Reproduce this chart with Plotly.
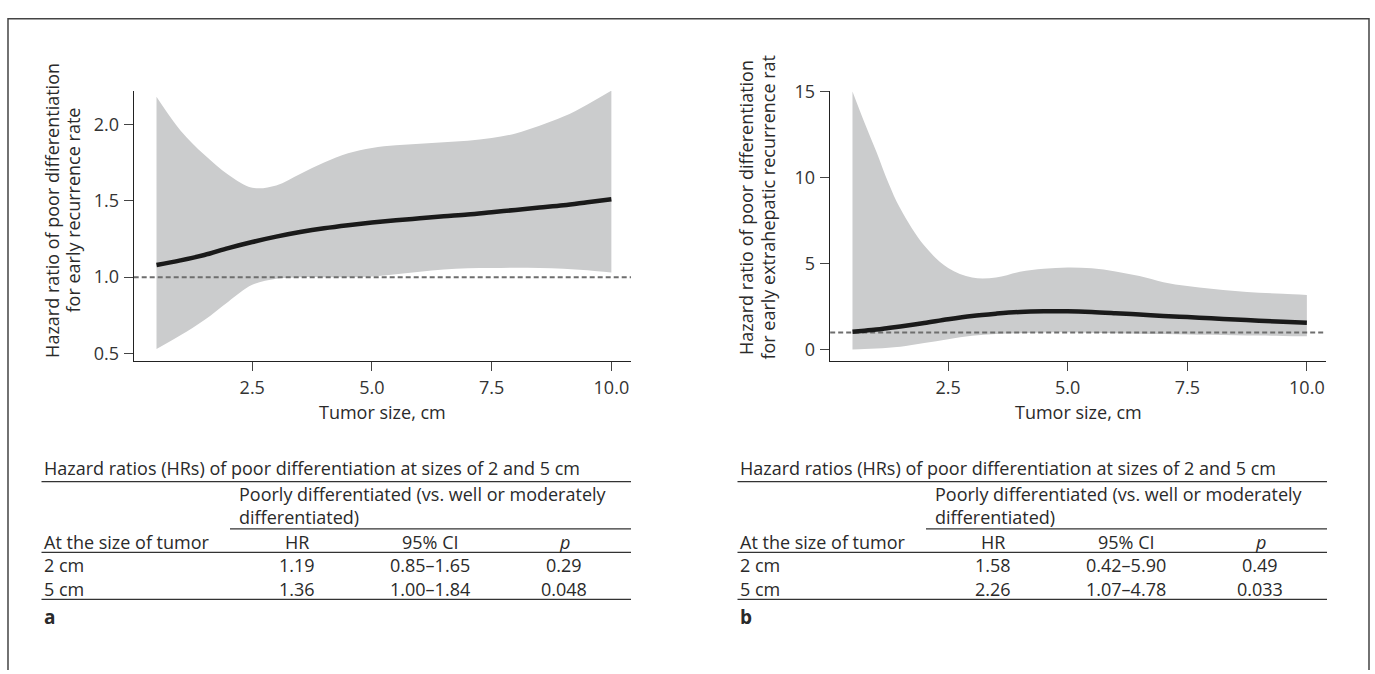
import plotly.graph_objects as go

W, H = 1375, 674

# ---------------- data ----------------
size_a = [0.5, 1.0, 1.5, 2.0, 2.5, 3.0, 3.5, 4.0, 4.5, 5.0, 5.5, 6.0, 6.5, 7.0, 7.5, 8.0, 8.5, 9.0, 9.5, 10.0]
hr_a = [1.08, 1.11, 1.145, 1.19, 1.23, 1.265, 1.295, 1.32, 1.34, 1.357, 1.372, 1.385, 1.398, 1.41, 1.425, 1.44, 1.455, 1.47, 1.49, 1.51]
upper_a = [2.18, 1.96, 1.80, 1.67, 1.585, 1.60, 1.675, 1.75, 1.81, 1.845, 1.862, 1.873, 1.882, 1.892, 1.91, 1.94, 1.99, 2.05, 2.13, 2.22]
lower_a = [0.53, 0.62, 0.72, 0.84, 0.95, 0.99, 1.0, 1.0, 1.0, 1.005, 1.02, 1.035, 1.05, 1.058, 1.06, 1.062, 1.06, 1.055, 1.045, 1.03]

size_b = [0.5, 0.75, 1.0, 1.25, 1.5, 2.0, 2.5, 3.0, 3.5, 4.0, 4.5, 5.0, 5.5, 6.0, 6.5, 7.0, 7.5, 8.0, 8.5, 9.0, 9.5, 10.0]
hr_b = [1.05, 1.11, 1.18, 1.27, 1.36, 1.56, 1.78, 1.97, 2.1, 2.2, 2.24, 2.24, 2.2, 2.13, 2.05, 1.97, 1.9, 1.83, 1.76, 1.69, 1.63, 1.58]
upper_b = [15.0, 13.2, 11.5, 9.7, 8.2, 6.05, 4.75, 4.2, 4.2, 4.53, 4.7, 4.78, 4.73, 4.55, 4.28, 3.93, 3.7, 3.55, 3.42, 3.32, 3.25, 3.19]
lower_b = [0.02, 0.05, 0.08, 0.12, 0.18, 0.4, 0.62, 0.82, 0.92, 0.97, 1.0, 1.02, 0.99, 0.97, 0.94, 0.92, 0.89, 0.87, 0.85, 0.83, 0.81, 0.79]

reference_hr = 1.0

x_ticks = [2.5, 5.0, 7.5, 10.0]
x_ticktext = ["2.5", "5.0", "7.5", "10.0"]
y_ticks_a = [0.5, 1.0, 1.5, 2.0]
y_ticktext_a = ["0.5", "1.0", "1.5", "2.0"]
y_ticks_b = [0, 5, 10, 15]
y_ticktext_b = ["0", "5", "10", "15"]

x_title = "Tumor size, cm"
y_title_a = ["Hazard ratio of poor differentiation", "for early recurrence rate"]
y_title_b = ["Hazard ratio of poor differentiation", "for early extrahepatic recurrence rat"]

table_title = "Hazard ratios (HRs) of poor differentiation at sizes of 2 and 5 cm"
group_header = ["Poorly differentiated (vs. well or moderately", "differentiated)"]
col_headers = ["At the size of tumor", "HR", "95% CI", "<i>p</i>"]
rows_a = [["2 cm", "1.19", "0.85–1.65", "0.29"], ["5 cm", "1.36", "1.00–1.84", "0.048"]]
rows_b = [["2 cm", "1.58", "0.42–5.90", "0.49"], ["5 cm", "2.26", "1.07–4.78", "0.033"]]
panel_labels = ["a", "b"]

# ---------------- styling ----------------
FONT = "Open Sans, DejaVu Sans, sans-serif"
TXT = "#2a2a2a"
BAND = "#cbcccd"
LINE = "#1a1a1a"
DASH = "#6e6e6e"


def px(x):
    return x / W


def py(y):
    return 1 - y / H


fig = go.Figure()

panels = [
    dict(x=size_a, hr=hr_a, up=upper_a, lo=lower_a, xa="x", ya="y"),
    dict(x=size_b, hr=hr_b, up=upper_b, lo=lower_b, xa="x2", ya="y2"),
]

for p in panels:
    fig.add_trace(go.Scatter(x=p["x"], y=p["lo"], mode="lines", line=dict(width=0, shape="spline", color=BAND),
                             xaxis=p["xa"], yaxis=p["ya"], showlegend=False, hoverinfo="skip"))
    fig.add_trace(go.Scatter(x=p["x"], y=p["up"], mode="lines", line=dict(width=0, shape="spline", color=BAND),
                             fill="tonexty", fillcolor=BAND,
                             xaxis=p["xa"], yaxis=p["ya"], showlegend=False, hoverinfo="skip"))
    fig.add_trace(go.Scatter(x=[p["x"][0] - 10, p["x"][-1] + 10], y=[reference_hr, reference_hr], mode="lines",
                             line=dict(width=2, color=DASH, dash="5px,3px"),
                             xaxis=p["xa"], yaxis=p["ya"], showlegend=False, hoverinfo="skip"))
    fig.add_trace(go.Scatter(x=p["x"], y=p["hr"], mode="lines", line=dict(width=4.5, color=LINE, shape="spline"),
                             xaxis=p["xa"], yaxis=p["ya"], showlegend=False, hoverinfo="skip"))

ydom = [py(357), py(81)]
axis_common = dict(showline=True, linecolor="#222", linewidth=1.3, ticks="outside", ticklen=9,
                   tickcolor="#444", tickwidth=1, showgrid=False, zeroline=False,
                   tickfont=dict(family=FONT, size=18, color="#333"), mirror=False)

fig.update_layout(
    width=W, height=H,
    margin=dict(l=0, r=0, t=0, b=0),
    paper_bgcolor="white", plot_bgcolor="white",
    showlegend=False,
    hovermode=False,
    xaxis=dict(domain=[px(134), px(631)], range=[0.03, 10.41], tickvals=x_ticks, ticktext=x_ticktext,
               anchor="y", ticklabelstandoff=2, **axis_common),
    yaxis=dict(domain=ydom, range=[0.455, 2.217], tickvals=y_ticks_a, ticktext=y_ticktext_a,
               anchor="x", ticklabelstandoff=1, **axis_common),
    xaxis2=dict(domain=[px(830), px(1326)], range=[0.03, 10.40], tickvals=x_ticks, ticktext=x_ticktext,
                anchor="y2", ticklabelstandoff=2, **axis_common),
    yaxis2=dict(domain=ydom, range=[-0.62, 15.02], tickvals=y_ticks_b, ticktext=y_ticktext_b,
                anchor="x2", ticklabelstandoff=1, **axis_common),
)

ann = []
shapes = []


def text(x, y, s, size=18, xanchor="left", angle=0, bold=False):
    ann.append(dict(x=px(x), y=py(y), xref="paper", yref="paper", text=("<b>%s</b>" % s) if bold else s,
                    showarrow=False, xanchor=xanchor, yanchor="middle", textangle=angle, align="left",
                    font=dict(family=FONT, size=size, color=TXT)))


def hline(x0, x1, y, w=1.3):
    shapes.append(dict(type="line", xref="paper", yref="paper", x0=px(x0), x1=px(x1), y0=py(y), y1=py(y),
                       line=dict(color="#333", width=w)))


panel_dx = [0, 696]
y_titles = [y_title_a, y_title_b]
y_title_x = [(51.7, 73.3), (746.7, 768.3)]
y_title_y = [203, 200]
table_rows = [rows_a, rows_b]

for i in range(2):
    dx = panel_dx[i]
    # axis titles
    text(382.5 + dx, 410, x_title, size=18, xanchor="center")
    for j in range(2):
        text(y_title_x[i][j], y_title_y[i], y_titles[i][j], size=18, xanchor="center", angle=-90)
    # table
    left = 41.5 + dx
    right = 631 + dx
    text(left, 467, table_title)
    hline(left, right, 481)
    text(236.6 + dx, 505.5, "<br>".join(group_header))
    hline(230 + dx, right, 529.5)
    col_x = [None, 297 + dx, 430 + dx, 564 + dx]
    text(left, 542.5, col_headers[0])
    for c in range(1, 4):
        text(col_x[c], 542.5, col_headers[c], xanchor="center")
    hline(left, right, 553.5)
    for r, row in enumerate(table_rows[i]):
        yy = 566.5 + r * 24.5
        text(left, yy, row[0])
        for c in range(1, 4):
            text(col_x[c], yy, row[c], xanchor="center")
    hline(left, right, 601.7)
    text(left, 620, panel_labels[i], size=19, bold=True)

# outer frame (open at bottom)
shapes.append(dict(type="path", xref="paper", yref="paper",
                   path="M %f,%f L %f,%f L %f,%f L %f,%f" % (px(8), py(674), px(8), py(7), px(1369), py(7), px(1369), py(674)),
                   line=dict(color="#444", width=1.5)))

fig.update_layout(annotations=ann, shapes=shapes)
fig.write_html("out.html", config={"displayModeBar": False, "staticPlot": True},
               post_script="document.body.style.margin='0';document.body.style.overflow='hidden';")
